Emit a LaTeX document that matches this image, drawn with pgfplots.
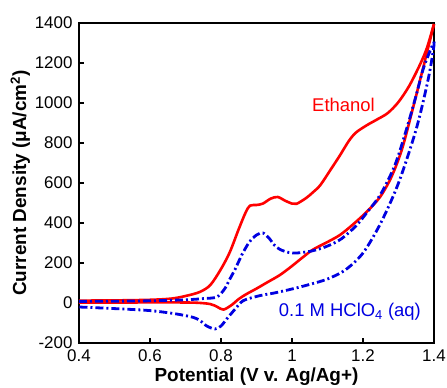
\documentclass[border=0pt]{standalone}
\usepackage{pgfplots}
\pgfplotsset{compat=1.18}
\usepackage{fontspec}
\setmainfont{Liberation Sans}
\definecolor{cvred}{RGB}{255,0,0}
\definecolor{cvblue}{RGB}{0,0,225}
\begin{document}
\begin{tikzpicture}
\useasboundingbox (-79bp,-45bp) rectangle (368bp,343bp);
\begin{axis}[
  at={(0,0)}, anchor=south west,
  width=355bp, height=320bp, scale only axis,
  xmin=0.4, xmax=1.4, ymin=-200, ymax=1400,
  xtick={0.4,0.6,0.8,1,1.2,1.4},
  ytick={-200,0,200,400,600,800,1000,1200,1400},
  xtick pos=left, ytick pos=left, tick align=inside,
  major tick length=5bp,
  every tick/.style={black, line width=1.2pt},
  axis line style={line width=1.6pt},
  /pgf/number format/assume math mode=true,
  /pgf/number format/1000 sep={},
  tick label style={font=\fontsize{17}{20}\selectfont},
  xticklabel style={yshift=-3bp},
  yticklabel style={xshift=-3bp},
  xlabel={\bfseries Potential (V v. Ag/Ag+)},
  ylabel={\bfseries Current Density (μA/cm\textsuperscript{2})},
  label style={font=\fontsize{19}{22}\selectfont},
  xlabel style={yshift=1bp},
  ylabel style={yshift=-2bp},
  clip=false,
]
\addplot[cvred, line width=2.6bp, smooth, tension=0.5] coordinates {
(0.40,12) (0.50,13) (0.60,16) (0.66,22) (0.70,35) (0.74,55) (0.77,90)
(0.80,170) (0.825,255) (0.85,370) (0.87,455) (0.882,487) (0.90,490)
(0.918,497) (0.94,522) (0.96,530) (0.98,512) (1.00,497) (1.013,496)
(1.04,525) (1.06,555) (1.08,590) (1.11,670) (1.135,738) (1.16,810)
(1.18,852) (1.21,888) (1.24,918) (1.27,950) (1.30,1005) (1.33,1085)
(1.36,1190) (1.38,1275) (1.40,1395)
};
\addplot[cvred, line width=2.6bp, smooth, tension=0.5] coordinates {
(1.40,1395) (1.37,1180) (1.34,970) (1.31,770) (1.28,630) (1.248,530)
(1.21,455) (1.17,390) (1.135,340) (1.10,305) (1.06,268)
(1.03,228) (1.00,185) (0.966,140) (0.93,103) (0.90,72) (0.872,45)
(0.85,20) (0.83,-10) (0.807,-33) (0.79,-20) (0.769,-5) (0.72,2)
(0.60,3) (0.50,2) (0.40,2)
};
\addplot[cvblue, line width=2.8bp, smooth, tension=0.5,
  dash pattern=on 8bp off 3bp on 2bp off 3bp] coordinates {
(0.40,8) (0.50,9) (0.60,11) (0.70,16) (0.75,22) (0.788,30) (0.81,70)
(0.825,120) (0.84,170) (0.86,245) (0.88,305) (0.90,340) (0.918,350)
(0.935,325) (0.95,290) (0.966,268) (0.99,253) (1.013,250) (1.05,258)
(1.08,272) (1.107,290) (1.14,322) (1.18,385) (1.21,450) (1.25,545)
(1.29,690) (1.323,872) (1.35,1040) (1.37,1172) (1.394,1282) (1.40,1290)
(1.384,1122) (1.35,870) (1.30,600) (1.25,400) (1.20,250)
(1.15,165) (1.10,120) (1.05,93) (1.00,70) (0.95,50) (0.91,37)
(0.863,12) (0.84,-30) (0.816,-80) (0.80,-115) (0.783,-130) (0.76,-115)
(0.741,-88) (0.722,-72) (0.675,-55) (0.60,-38) (0.50,-28) (0.40,-20)
};
\node[text=cvred, font=\fontsize{18.5}{22}\selectfont] at (axis cs:1.145,990) {Ethanol};
\node[text=cvblue, font=\fontsize{18.5}{22}\selectfont] at (axis cs:1.163,-45) {0.1 M HClO\textsubscript{4} (aq)};
\end{axis}
\end{tikzpicture}
\end{document}
